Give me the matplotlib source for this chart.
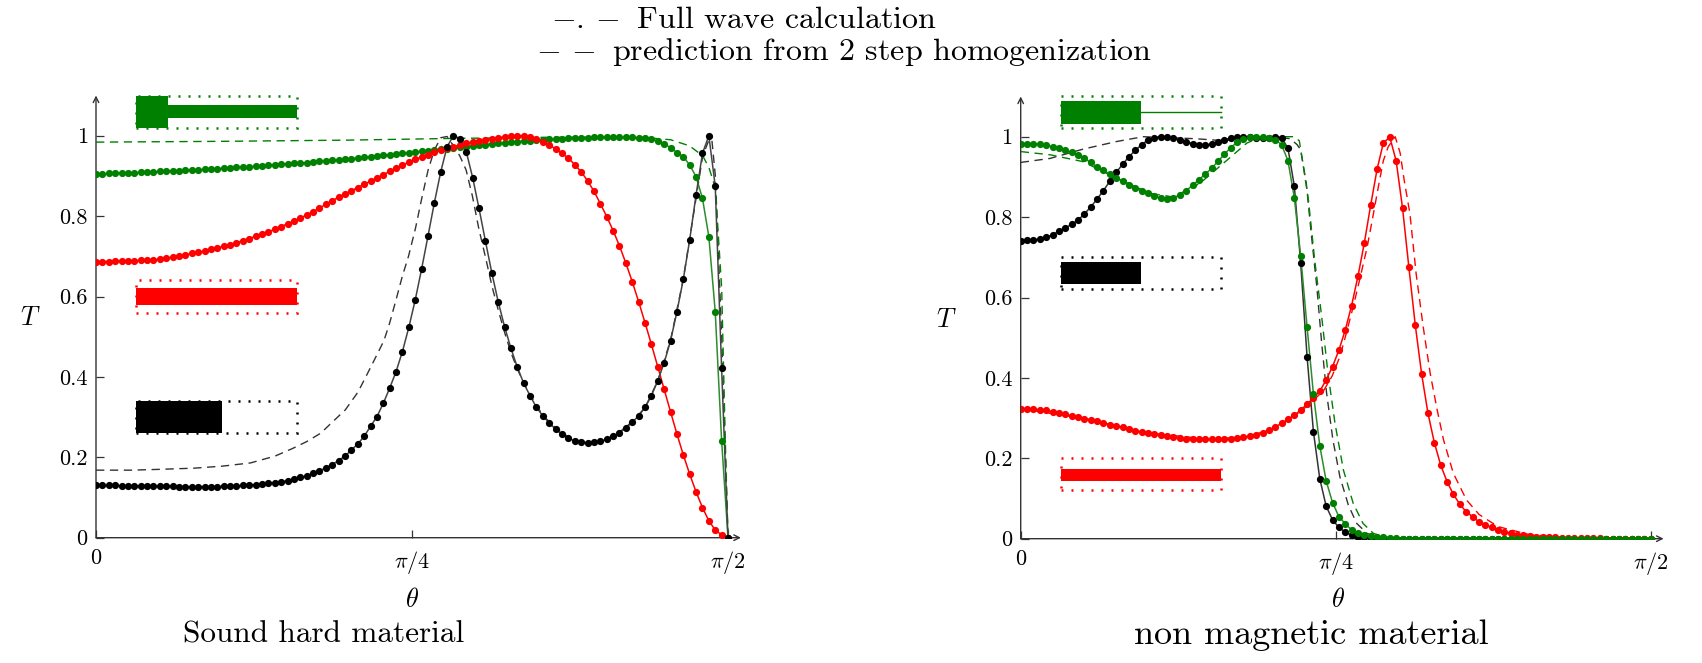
import numpy as np
import matplotlib
matplotlib.use('Agg')
import matplotlib.pyplot as plt
from matplotlib.patches import Rectangle

plt.rcParams['font.family'] = 'cmr10'
plt.rcParams['mathtext.fontset'] = 'cm'
plt.rcParams['axes.unicode_minus'] = False

# full wave calculation, 100 angles from 0 to pi/2
theta = np.linspace(0, np.pi / 2, 100)

# ---- sound hard material (left)
hard_black = [
    0.130, 0.130, 0.130, 0.130, 0.129, 0.129, 0.129, 0.129, 0.128, 0.128,
    0.128, 0.128, 0.128, 0.127, 0.127, 0.127, 0.127, 0.127, 0.127, 0.127,
    0.128, 0.128, 0.129, 0.130, 0.131, 0.132, 0.133, 0.135, 0.137, 0.139,
    0.142, 0.146, 0.150, 0.154, 0.160, 0.166, 0.174, 0.182, 0.192, 0.203,
    0.218, 0.233, 0.252, 0.277, 0.301, 0.334, 0.372, 0.413, 0.463, 0.523,
    0.591, 0.668, 0.750, 0.833, 0.910, 0.973, 1.000, 0.993, 0.960, 0.896,
    0.819, 0.738, 0.659, 0.587, 0.525, 0.471, 0.424, 0.384, 0.353, 0.324,
    0.303, 0.285, 0.270, 0.257, 0.247, 0.241, 0.238, 0.236, 0.237, 0.240,
    0.245, 0.252, 0.261, 0.273, 0.287, 0.303, 0.324, 0.353, 0.391, 0.435,
    0.490, 0.562, 0.643, 0.741, 0.853, 0.956, 1.000, 0.875, 0.421, 0.000]
hard_red = [
    0.687, 0.687, 0.687, 0.688, 0.688, 0.689, 0.689, 0.690, 0.690, 0.691,
    0.693, 0.695, 0.698, 0.701, 0.704, 0.707, 0.710, 0.713, 0.717, 0.721,
    0.725, 0.729, 0.734, 0.739, 0.744, 0.750, 0.755, 0.761, 0.767, 0.774,
    0.781, 0.788, 0.795, 0.803, 0.811, 0.820, 0.829, 0.838, 0.847, 0.855,
    0.863, 0.871, 0.879, 0.887, 0.895, 0.903, 0.911, 0.919, 0.927, 0.934,
    0.941, 0.947, 0.953, 0.959, 0.964, 0.969, 0.973, 0.977, 0.981, 0.984,
    0.987, 0.990, 0.993, 0.995, 0.997, 0.999, 1.000, 0.999, 0.997, 0.993,
    0.985, 0.977, 0.967, 0.956, 0.944, 0.928, 0.910, 0.888, 0.862, 0.831,
    0.799, 0.764, 0.726, 0.683, 0.637, 0.587, 0.535, 0.481, 0.425, 0.369,
    0.313, 0.258, 0.206, 0.158, 0.114, 0.075, 0.042, 0.019, 0.007, 0.000]
hard_green = [
    0.905, 0.905, 0.906, 0.906, 0.907, 0.907, 0.908, 0.909, 0.909, 0.910,
    0.911, 0.911, 0.912, 0.913, 0.914, 0.914, 0.915, 0.916, 0.917, 0.918,
    0.919, 0.920, 0.921, 0.922, 0.923, 0.924, 0.925, 0.927, 0.928, 0.929,
    0.930, 0.931, 0.932, 0.933, 0.935, 0.936, 0.937, 0.939, 0.940, 0.942,
    0.943, 0.945, 0.946, 0.948, 0.950, 0.952, 0.953, 0.955, 0.956, 0.958,
    0.960, 0.961, 0.963, 0.965, 0.967, 0.968, 0.970, 0.972, 0.973, 0.975,
    0.977, 0.978, 0.980, 0.981, 0.983, 0.984, 0.985, 0.987, 0.988, 0.989,
    0.990, 0.991, 0.992, 0.993, 0.994, 0.994, 0.995, 0.995, 0.996, 0.996,
    0.996, 0.996, 0.996, 0.996, 0.996, 0.995, 0.994, 0.991, 0.987, 0.980,
    0.970, 0.958, 0.948, 0.927, 0.898, 0.844, 0.749, 0.562, 0.241, 0.000]

# 2 step homogenization predictions (angle in degrees, T)
hard_black_hom_deg = [0, 5, 9, 14, 18, 22, 25.5, 28, 30, 32, 33.5, 35.5, 37.3, 39, 41, 41.8,
                      42.7, 43.6, 44.5, 45.5, 46.4, 47.3, 48.2, 49.1, 50, 50.9, 51.8, 52.7,
                      53.6, 54.5, 55.5, 56.4, 57.3, 58.2, 59.1, 60, 60.9, 61.8, 63.6, 65.5,
                      67.3, 69.1, 70.9, 72.7, 74.5, 76.4, 78.2, 80, 81.8, 83.6, 85.5, 86.4,
                      87.3, 87.7, 88.2, 89.1, 90]
hard_black_hom = [0.168, 0.168, 0.170, 0.173, 0.178, 0.186, 0.203, 0.222, 0.239, 0.260, 0.285,
                  0.318, 0.362, 0.420, 0.490, 0.533, 0.590, 0.649, 0.700, 0.770, 0.845, 0.915,
                  0.965, 0.995, 0.998, 0.975, 0.950, 0.915, 0.850, 0.770, 0.695, 0.625, 0.565,
                  0.510, 0.460, 0.420, 0.385, 0.355, 0.305, 0.272, 0.250, 0.238, 0.237, 0.245,
                  0.262, 0.289, 0.324, 0.390, 0.490, 0.640, 0.850, 0.950, 0.990, 0.990, 0.900,
                  0.500, 0.000]
hard_green_hom_deg = [0, 18, 36, 50, 64, 77, 81.8, 84.5, 86.4, 87.3, 88.2, 89.1, 89.6, 90]
hard_green_hom = [0.984, 0.986, 0.989, 0.993, 0.996, 0.997, 0.990, 0.975, 0.950, 0.920,
                  0.870, 0.620, 0.250, 0.000]

# ---- non magnetic material (right)
nonmag_black = [
    0.741, 0.742, 0.743, 0.746, 0.750, 0.756, 0.765, 0.773, 0.782, 0.792,
    0.808, 0.825, 0.845, 0.866, 0.889, 0.911, 0.931, 0.950, 0.966, 0.980,
    0.992, 0.998, 1.000, 0.999, 0.996, 0.992, 0.987, 0.983, 0.980, 0.979,
    0.982, 0.987, 0.992, 0.997, 0.999, 1.000, 0.999, 0.998, 0.998, 0.998,
    0.999, 0.998, 0.971, 0.877, 0.685, 0.453, 0.266, 0.149, 0.081, 0.047,
    0.028, 0.016, 0.009, 0.005, 0.003, 0.002, 0.001, 0.001, 0.000, 0.000,
    0.000, 0.000, 0.000, 0.000, 0.000, 0.000, 0.000, 0.000, 0.000, 0.000,
    0.000, 0.000, 0.000, 0.000, 0.000, 0.000, 0.000, 0.000, 0.000, 0.000,
    0.000, 0.000, 0.000, 0.000, 0.000, 0.000, 0.000, 0.000, 0.000, 0.000,
    0.000, 0.000, 0.000, 0.000, 0.000, 0.000, 0.000, 0.000, 0.000, 0.000]
nonmag_red = [
    0.323, 0.323, 0.322, 0.321, 0.319, 0.316, 0.313, 0.310, 0.306, 0.303,
    0.299, 0.296, 0.292, 0.288, 0.284, 0.280, 0.277, 0.273, 0.269, 0.266,
    0.263, 0.260, 0.257, 0.255, 0.253, 0.251, 0.249, 0.248, 0.247, 0.247,
    0.247, 0.247, 0.248, 0.249, 0.250, 0.252, 0.255, 0.259, 0.264, 0.270,
    0.278, 0.287, 0.297, 0.307, 0.320, 0.335, 0.350, 0.367, 0.395, 0.428,
    0.469, 0.519, 0.580, 0.653, 0.736, 0.830, 0.919, 0.985, 0.999, 0.940,
    0.823, 0.675, 0.532, 0.410, 0.312, 0.239, 0.183, 0.142, 0.110, 0.086,
    0.067, 0.055, 0.042, 0.034, 0.028, 0.021, 0.017, 0.013, 0.010, 0.008,
    0.006, 0.005, 0.004, 0.003, 0.003, 0.002, 0.002, 0.001, 0.001, 0.001,
    0.001, 0.001, 0.000, 0.000, 0.000, 0.000, 0.000, 0.000, 0.000, 0.000]
nonmag_green = [
    0.983, 0.983, 0.983, 0.981, 0.979, 0.975, 0.971, 0.967, 0.961, 0.954,
    0.946, 0.936, 0.925, 0.916, 0.907, 0.898, 0.889, 0.880, 0.872, 0.865,
    0.859, 0.853, 0.848, 0.846, 0.848, 0.855, 0.866, 0.879, 0.893, 0.907,
    0.921, 0.939, 0.956, 0.973, 0.986, 0.995, 1.000, 1.000, 1.000, 0.998,
    0.993, 0.980, 0.940, 0.848, 0.703, 0.527, 0.360, 0.231, 0.144, 0.090,
    0.055, 0.037, 0.022, 0.014, 0.009, 0.006, 0.004, 0.003, 0.002, 0.001,
    0.000, 0.000, 0.000, 0.000, 0.000, 0.000, 0.000, 0.000, 0.000, 0.000,
    0.000, 0.000, 0.000, 0.000, 0.000, 0.000, 0.000, 0.000, 0.000, 0.000,
    0.000, 0.000, 0.000, 0.000, 0.000, 0.000, 0.000, 0.000, 0.000, 0.000,
    0.000, 0.000, 0.000, 0.000, 0.000, 0.000, 0.000, 0.000, 0.000, 0.000]

nonmag_black_hom_deg = [0, 4.2, 8.9, 13.7, 17.5, 25, 29, 33, 36, 38.5, 39.5, 40, 40.8, 41.5,
                        42.3, 43, 43.7, 44.6, 45.6, 46.8, 48, 49.5, 51, 54, 90]
nonmag_black_hom = [0.936, 0.946, 0.969, 0.988, 1.000, 0.995, 0.990, 0.998, 1.000, 0.995,
                    0.980, 0.967, 0.884, 0.760, 0.627, 0.486, 0.362, 0.246, 0.154, 0.084,
                    0.038, 0.013, 0.005, 0.001, 0.000]
nonmag_green_hom_deg = [0, 4.2, 8.9, 13.7, 18.5, 21.8, 25.6, 29.5, 32.3, 34, 36, 39, 39.8,
                        40.2, 41.1, 42, 43, 43.9, 44.9, 46.1, 47.5, 48.9, 50.4, 52.2, 55, 90]
nonmag_green_hom = [0.963, 0.955, 0.938, 0.897, 0.859, 0.850, 0.884, 0.942, 0.984, 0.997,
                    1.000, 1.000, 0.990, 0.946, 0.843, 0.693, 0.552, 0.411, 0.287, 0.171,
                    0.088, 0.038, 0.013, 0.004, 0.001, 0.000]
nonmag_red_hom_deg = [0, 9.1, 18.2, 27.3, 32.7, 36.4, 40, 41.8, 43.2, 44.5, 45.6, 46.5, 47.5,
                      48.5, 49.5, 50.3, 51.1, 51.8, 52.5, 53.5, 54.2, 54.8, 55.6, 56.5, 57.5,
                      58.5, 59.5, 60.4, 61.8, 63.7, 65.5, 68.2, 72.7, 77.3, 81.8, 90]
nonmag_red_hom = [0.323, 0.299, 0.263, 0.247, 0.255, 0.276, 0.316, 0.345, 0.366, 0.405,
                  0.453, 0.510, 0.577, 0.650, 0.726, 0.800, 0.876, 0.940, 0.975, 1.000,
                  0.960, 0.890, 0.809, 0.658, 0.527, 0.411, 0.320, 0.246, 0.163, 0.096,
                  0.060, 0.030, 0.010, 0.004, 0.002, 0.000]

GREEN = '#008000'
RED = '#ff0000'
AXC = '#333333'
W, H = 1702, 663

fig = plt.figure(figsize=(W / 100, H / 100), dpi=100)


def make_axes(x0, y0, sx, sy):
    # x0, y0: pixel position of the origin, sx, sy: pixels per unit
    xmax, ymax = 1.62, 1.13
    ax = fig.add_axes([x0 / W, (H - y0) / H, xmax * sx / W, ymax * sy / H])
    ax.set_xlim(0, xmax)
    ax.set_ylim(0, ymax)
    for s in ax.spines.values():
        s.set_visible(False)
    ax.annotate('', xy=(1.603, 0), xytext=(0, 0),
                arrowprops=dict(arrowstyle='->', color=AXC, lw=1.0, shrinkA=0, shrinkB=0))
    ax.annotate('', xy=(0, 1.10), xytext=(0, 0),
                arrowprops=dict(arrowstyle='->', color=AXC, lw=1.0, shrinkA=0, shrinkB=0))
    ax.set_xticks([0, np.pi / 4, np.pi / 2])
    ax.set_xticklabels(['0', r'$\pi/4$', r'$\pi/2$'])
    ax.set_yticks([0, 0.2, 0.4, 0.6, 0.8, 1.0])
    ax.set_yticklabels(['0', '0.2', '0.4', '0.6', '0.8', '1'])
    ax.tick_params(direction='in', length=6, width=0.9, color=AXC, labelsize=16, pad=6)
    ax.tick_params(axis='x', pad=8)
    return ax


def dotted_box(ax, x0, x1, y0, y1, color):
    ax.add_patch(Rectangle((x0, y0), x1 - x0, y1 - y0, fill=False, edgecolor=color,
                           linestyle=(0, (0.8, 3.2)), lw=1.8, zorder=6))


def full_wave(ax, y, color, lcolor):
    ax.plot(theta, y, '-', color=lcolor, lw=1.1, zorder=4)
    ax.plot(theta, y, 'o', color=color, ms=5.2, mew=0, zorder=5)


def hom(ax, deg, y, color):
    ax.plot(np.radians(deg), y, '--', color=color, lw=1.0, dashes=(6, 4), zorder=3)


# ---------- left panel
ax1 = make_axes(96, 537.7, 632 / (np.pi / 2), 402)
hom(ax1, hard_black_hom_deg, hard_black_hom, '#333333')
hom(ax1, hard_green_hom_deg, hard_green_hom, GREEN)
full_wave(ax1, hard_green, GREEN, '#2e8b2e')
full_wave(ax1, hard_red, RED, RED)
full_wave(ax1, hard_black, 'black', '#444444')

# material sketches
dotted_box(ax1, 0.1, 0.5, 1.02, 1.10, GREEN)
ax1.add_patch(Rectangle((0.1, 1.02), 0.08, 0.08, color=GREEN, lw=0, zorder=6))
ax1.add_patch(Rectangle((0.18, 1.045), 0.32, 0.031, color=GREEN, lw=0, zorder=6))
dotted_box(ax1, 0.1, 0.5, 0.56, 0.64, RED)
ax1.add_patch(Rectangle((0.1, 0.58), 0.4, 0.04, color=RED, lw=0, zorder=6))
dotted_box(ax1, 0.1, 0.5, 0.26, 0.34, 'black')
ax1.add_patch(Rectangle((0.1, 0.26), 0.213, 0.08, color='black', lw=0, zorder=6))

# ---------- right panel
ax2 = make_axes(1020.7, 538.7, 630 / (np.pi / 2), 402)
hom(ax2, nonmag_black_hom_deg, nonmag_black_hom, '#333333')
hom(ax2, nonmag_green_hom_deg, nonmag_green_hom, GREEN)
hom(ax2, nonmag_red_hom_deg, nonmag_red_hom, RED)
full_wave(ax2, nonmag_black, 'black', '#333333')
full_wave(ax2, nonmag_red, RED, RED)
full_wave(ax2, nonmag_green, GREEN, '#2e8b2e')

dotted_box(ax2, 0.1, 0.5, 1.022, 1.10, GREEN)
ax2.add_patch(Rectangle((0.1, 1.032), 0.2, 0.057, color=GREEN, lw=0, zorder=6))
ax2.plot([0.3, 0.5], [1.061, 1.061], color=GREEN, lw=1.0, zorder=6)
dotted_box(ax2, 0.1, 0.5, 0.62, 0.70, 'black')
ax2.add_patch(Rectangle((0.1, 0.634), 0.2, 0.054, color='black', lw=0, zorder=6))
dotted_box(ax2, 0.1, 0.5, 0.122, 0.20, RED)
ax2.add_patch(Rectangle((0.1, 0.144), 0.4, 0.029, color=RED, lw=0, zorder=6))

# ---------- labels
fig.text(30 / W, 1 - 318 / H, r'$T$', fontsize=19, ha='center', va='center')
fig.text(946 / W, 1 - 320 / H, r'$T$', fontsize=19, ha='center', va='center')
fig.text(412 / W, 1 - 600 / H, r'$\theta$', fontsize=19, ha='center', va='center')
fig.text(1338 / W, 1 - 600 / H, r'$\theta$', fontsize=19, ha='center', va='center')
fig.text(324 / W, 1 - 635 / H, 'Sound hard material', fontsize=22.5, ha='center', va='center')
fig.text(1311 / W, 1 - 635 / H, 'non magnetic material', fontsize=26, ha='center', va='center')

fig.text(551 / W, 1 - 20 / H, r'$-.-$ Full wave calculation', fontsize=23,
         ha='left', va='center')
fig.text(536 / W, 1 - 52 / H, r'$-\,-$ prediction from 2 step homogenization', fontsize=23,
         ha='left', va='center')

fig.savefig('out.png', dpi=100)
